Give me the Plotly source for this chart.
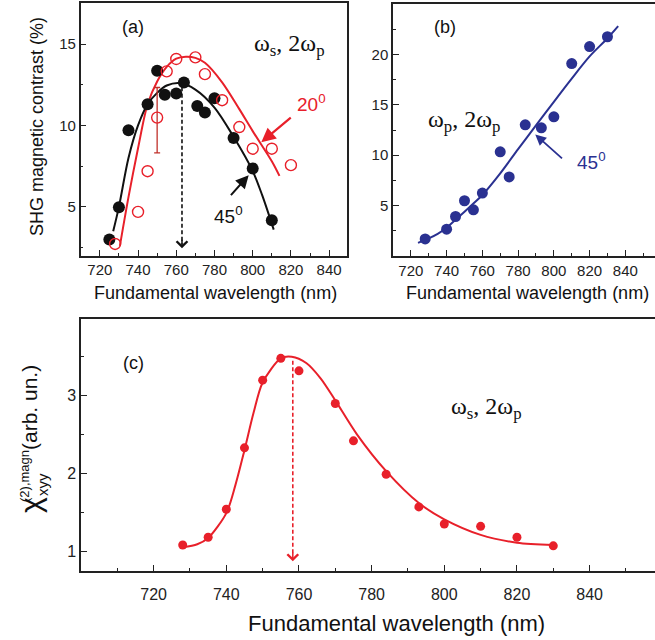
import plotly.graph_objects as go

W, H = 655, 640

# ---------------- Panel (a) data ----------------
a_wl_45 = [725, 730, 735, 745, 750, 754, 760, 764, 771, 775, 780, 790, 800, 810]
a_c_45 = [2.99, 4.98, 9.70, 11.30, 13.36, 11.88, 11.96, 12.64, 11.20, 10.79, 11.67, 9.23, 7.36, 4.18]
a_wl_20 = [728, 740, 745, 750, 755, 760, 770, 775, 784, 793, 800, 810, 820]
a_c_20 = [2.72, 4.69, 7.19, 10.48, 13.32, 14.08, 14.18, 13.15, 11.55, 9.90, 8.57, 8.57, 7.56]
a_fit45_wl = [727, 730, 735, 740, 745, 750, 755, 762, 770, 780, 790, 800, 805, 811]
a_fit45 = [3.5, 5.0, 8.0, 10.0, 11.3, 12.0, 12.45, 12.6, 12.2, 11.1, 9.3, 7.2, 5.7, 3.6]
a_fit20_wl = [730.5, 735, 740, 745, 750, 755, 760, 765, 770, 775, 784, 793, 800, 810, 814]
a_fit20 = [2.6, 5.6, 8.6, 11.3, 12.7, 13.6, 14.1, 14.22, 14.15, 13.85, 12.65, 11.0, 9.65, 7.8, 6.9]
a_err_wl = [750]
a_err_val = [10.48]
a_err_plus = [1.85]
a_err_minus = [2.17]
a_peak = 763

# ---------------- Panel (b) data ----------------
b_wl = [728, 740, 745, 750, 755, 760, 770, 775, 784, 793, 800, 810, 820, 830]
b_c = [1.69, 2.66, 3.92, 5.48, 4.58, 6.24, 10.33, 7.84, 13.01, 12.72, 13.81, 19.09, 20.78, 21.75]
b_fit_wl = [724, 730, 735, 740, 745, 750, 755, 760, 770, 780, 790, 800, 810, 820, 830, 836]
b_fit = [1.3, 1.75, 2.2, 2.8, 3.6, 4.4, 5.2, 6.05, 8.2, 10.6, 12.95, 15.3, 17.6, 19.8, 21.6, 22.8]

# ---------------- Panel (c) data ----------------
c_wl = [728, 735, 740, 745, 750, 755, 760, 770, 775, 784, 793, 800, 810, 820, 830]
c_chi = [1.08, 1.18, 1.54, 2.33, 3.20, 3.48, 3.32, 2.90, 2.42, 1.99, 1.57, 1.35, 1.32, 1.18, 1.07]
c_fit_wl = [728, 732, 735, 740, 742.5, 745, 747.5, 750, 755, 758, 762, 766, 770, 776, 784, 793, 800, 810, 820, 830]
c_fit = [1.05, 1.09, 1.17, 1.49, 1.85, 2.30, 2.78, 3.17, 3.48, 3.50, 3.42, 3.22, 2.94, 2.50, 2.03, 1.62, 1.41, 1.21, 1.11, 1.08]
c_peak = 758.3

x_ticks = [720, 740, 760, 780, 800, 820, 840]
a_yticks = [5, 10, 15]
b_yticks = [5, 10, 15, 20]
c_yticks = [1, 2, 3]

RED = "#e8202a"
BLACK = "#111111"
BLUE = "#2a3191"
AXC = "#222222"
SANS = "Liberation Sans, Arial, sans-serif"
SERIF = "Liberation Serif, Times New Roman, serif"

fig = go.Figure()

# (a)
fig.add_trace(go.Scatter(x=a_fit20_wl, y=a_fit20, mode="lines", line=dict(color=RED, width=2, shape="spline", smoothing=0.9), xaxis="x", yaxis="y"))
fig.add_trace(go.Scatter(x=a_fit45_wl, y=a_fit45, mode="lines", line=dict(color=BLACK, width=2, shape="spline", smoothing=0.9), xaxis="x", yaxis="y"))
fig.add_trace(go.Scatter(x=a_err_wl, y=a_err_val, mode="markers", marker=dict(size=1, opacity=0),
                         error_y=dict(type="data", array=a_err_plus, arrayminus=a_err_minus, color="#c0302a", thickness=1.3, width=3),
                         xaxis="x", yaxis="y"))
fig.add_trace(go.Scatter(x=a_wl_45, y=a_c_45, mode="markers", marker=dict(color=BLACK, size=12), xaxis="x", yaxis="y"))
fig.add_trace(go.Scatter(x=a_wl_20, y=a_c_20, mode="markers",
                         marker=dict(symbol="circle-open", color=RED, size=11, line=dict(width=1.4, color=RED)), xaxis="x", yaxis="y"))

# (b)
fig.add_trace(go.Scatter(x=b_fit_wl, y=b_fit, mode="lines", line=dict(color=BLUE, width=2, shape="spline", smoothing=0.9), xaxis="x2", yaxis="y2"))
fig.add_trace(go.Scatter(x=b_wl, y=b_c, mode="markers", marker=dict(color=BLUE, size=11), xaxis="x2", yaxis="y2"))

# (c)
fig.add_trace(go.Scatter(x=c_fit_wl, y=c_fit, mode="lines", line=dict(color=RED, width=2, shape="spline", smoothing=0.8), xaxis="x3", yaxis="y3"))
fig.add_trace(go.Scatter(x=c_wl, y=c_chi, mode="markers", marker=dict(color=RED, size=9), xaxis="x3", yaxis="y3"))


def xax(domain, rng, anchor, fs, standoff=0):
    d = dict(domain=domain, range=rng, anchor=anchor, tickvals=x_ticks, showline=True, linecolor=AXC, linewidth=1.5,
             mirror=True, ticks="inside", ticklen=6, tickwidth=1.2, tickcolor=AXC, showgrid=False, zeroline=False,
             tickfont=dict(family=SANS, size=fs, color=AXC),
             minor=dict(dtick=10, tick0=0, ticks="inside", ticklen=3, tickwidth=1, tickcolor=AXC, showgrid=False))
    if standoff:
        d["ticklabelstandoff"] = standoff
    return d


def yax(domain, rng, anchor, tv, mdt, fs, mirror):
    return dict(domain=domain, range=rng, anchor=anchor, tickvals=tv, showline=True, linecolor=AXC, linewidth=1.5,
                mirror=mirror, ticks="inside", ticklen=6, tickwidth=1.2, tickcolor=AXC, showgrid=False, zeroline=False,
                tickfont=dict(family=SANS, size=fs, color=AXC),
                minor=dict(dtick=mdt, tick0=0, ticks="inside", ticklen=3, tickwidth=1, tickcolor=AXC, showgrid=False))


def px(x):
    return x / W


def py(y):
    return 1 - y / H


fig.update_layout(
    width=W, height=H, margin=dict(l=0, r=0, t=0, b=0), showlegend=False,
    paper_bgcolor="white", plot_bgcolor="white",
    xaxis=xax([px(80.7), px(347.3)], [710, 849.5], "y", 15),
    yaxis=yax([py(255.7), py(3.3)], [2, 17.5], "x", a_yticks, 2.5, 15, True),
    xaxis2=xax([px(393), 1.0], [710, 856.6], "y2", 15),
    yaxis2=yax([py(256), py(4)], [0, 25], "x2", b_yticks, 2.5, 15, False),
    xaxis3=xax([px(81), 1.0], [700, 858], "y3", 16, standoff=8),
    yaxis3=yax([py(570.7), py(318.7)], [0.75, 3.99], "x3", c_yticks, 0.5, 16, False),
)

shapes = [
    dict(type="line", xref="x", yref="y", x0=a_peak, x1=a_peak, y0=12.35, y1=2.7,
         line=dict(color=BLACK, width=1.6, dash="4px,2.5px")),
    dict(type="line", xref="x3", yref="y3", x0=c_peak, x1=c_peak, y0=3.45, y1=0.95,
         line=dict(color=RED, width=1.6, dash="4px,2.5px")),
]
fig.update_layout(shapes=shapes)

ann = []


def txt(x, y, text, size, color=BLACK, family=SANS, angle=0):
    ann.append(dict(xref="paper", yref="paper", x=px(x), y=py(y), text=text, showarrow=False,
                    font=dict(family=family, size=size, color=color), textangle=angle,
                    xanchor="center", yanchor="middle"))


# panel labels and texts
txt(133, 27, "(a)", 18)
txt(289, 45, "ω<sub>s</sub>, 2ω<sub>p</sub>", 24, family=SERIF)
txt(311, 103, "20<sup>0</sup>", 19, color=RED)
txt(228, 215, "45<sup>0</sup>", 19)
txt(445, 27, "(b)", 18)
txt(464, 121, "ω<sub>p</sub>, 2ω<sub>p</sub>", 24, family=SERIF)
txt(591, 161, "45<sup>0</sup>", 19, color=BLUE)
txt(133, 363, "(c)", 18)
txt(486, 408, "ω<sub>s</sub>, 2ω<sub>p</sub>", 24, family=SERIF)

# axis titles
txt(37, 127, "SHG magnetic contrast (%)", 18, angle=-90)
txt(215, 293, "Fundamental wavelength (nm)", 18)
txt(527, 293, "Fundamental wavelength (nm)", 18)
txt(396, 623, "Fundamental wavelength (nm)", 22)
txt(30, 505, "χ", 30, angle=-90)
txt(42, 485, "xyy", 15, angle=-90)
txt(24, 476, "(2),magn", 13, angle=-90)
txt(29, 408, "(arb. un.)", 21, angle=-90)

# arrows
ann.append(dict(xref="x", yref="y", x=804.5, y=8.96, axref="x", ayref="y", ax=820.7, ay=10.56, text="",
                showarrow=True, arrowhead=2, arrowsize=1.3, arrowwidth=2.2, arrowcolor=RED))
ann.append(dict(xref="x", yref="y", x=797.9, y=6.94, axref="x", ayref="y", ax=787.9, ay=5.63, text="",
                showarrow=True, arrowhead=2, arrowsize=1.3, arrowwidth=2, arrowcolor=BLACK))
ann.append(dict(xref="x2", yref="y2", x=789.6, y=12.05, axref="x2", ayref="y2", ax=805.4, ay=9.56, text="",
                showarrow=True, arrowhead=2, arrowsize=1.2, arrowwidth=1.8, arrowcolor=BLUE))
ann.append(dict(xref="x", yref="y", x=a_peak, y=2.45, ax=0, ay=-10, text="",
                showarrow=True, arrowhead=4, arrowsize=1.4, arrowwidth=1.5, arrowcolor=BLACK))
ann.append(dict(xref="x3", yref="y3", x=c_peak, y=0.87, ax=0, ay=-10, text="",
                showarrow=True, arrowhead=4, arrowsize=1.4, arrowwidth=1.5, arrowcolor=RED))

fig.update_layout(annotations=ann)

fig.write_html("out.html")
